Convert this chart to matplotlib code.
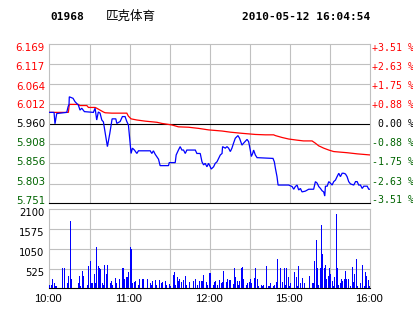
import matplotlib
matplotlib.use('Agg')
import matplotlib.pyplot as plt
import matplotlib.transforms as mtransforms

# ---------------- data ----------------
stock_code = "01968"
stock_name = "匹克体育"
timestamp = "2010-05-12 16:04:54"
prev_close = 5.960

price_ticks = [6.169, 6.117, 6.064, 6.012, 5.960, 5.908, 5.856, 5.803, 5.751]
pct_labels = ["+3.51 %", "+2.63 %", "+1.75 %", "+0.88 %", " 0.00 %",
              "-0.88 %", "-1.75 %", "-2.63 %", "-3.51 %"]
vol_ticks = [525, 1050, 1575, 2100]
time_pos = [0, 60, 120, 180, 240]
time_labels = ["10:00", "11:00", "12:00", "15:00", "16:00"]

price_min = [0, 3.4, 4.1, 5.4, 12.9, 13.9, 14.6, 14.8, 17.6, 19.1, 21.6, 22.8, 24.1, 26.1,
             32.8, 34.1, 35.3, 36.5, 37.8, 39.1, 40.3, 43.3, 45.1, 46.8, 49.6, 50.3, 52.8,
             54.5, 56.5, 57.8, 59.0, 61.0, 62.0, 63.5, 65.3, 66.5, 75.3, 76.5, 77.7, 79.0,
             81.5, 82.7, 89.0, 89.5, 94.0, 94.7, 96.4, 97.7, 99.0, 100.2, 101.5, 102.7,
             109.0, 110.2, 112.7, 114.0, 115.2, 116.4, 117.7, 118.9, 120.2, 120.9, 122.7,
             123.9, 125.2, 127.7, 129.0, 129.4, 131.4, 132.7, 133.9, 135.2, 136.4, 137.6,
             138.9, 140.9, 142.1, 143.9, 145.1, 147.7, 148.9, 150.1, 150.9, 151.9, 152.6,
             153.9, 155.2, 167.1, 168.1, 168.9, 170.1, 170.9, 178.8, 181.4, 182.6, 183.8,
             185.1, 186.3, 187.6, 188.8, 191.3, 193.8, 197.5, 198.8, 200.1, 201.3, 202.6,
             203.8, 205.0, 205.8, 206.3, 207.6, 208.8, 210.0, 211.3, 212.5, 213.8, 215.0,
             216.3, 217.5, 218.8, 220.0, 221.3, 222.5, 223.7, 225.0, 227.5, 228.8, 230.0,
             231.2, 232.5, 233.8, 235.0, 237.5, 238.7, 240.0]
price_val = [5.990, 5.990, 5.960, 5.987, 5.990, 6.005, 6.011, 6.031, 6.027, 6.018, 6.009,
             5.996, 6.001, 5.992, 5.990, 6.001, 5.970, 5.991, 5.988, 5.970, 5.965, 5.900,
             5.935, 5.973, 5.973, 5.961, 5.966, 5.979, 5.979, 5.966, 5.957, 5.882, 5.896,
             5.891, 5.882, 5.889, 5.889, 5.882, 5.889, 5.880, 5.867, 5.850, 5.850, 5.858,
             5.858, 5.878, 5.891, 5.900, 5.891, 5.891, 5.882, 5.891, 5.891, 5.882, 5.882,
             5.860, 5.852, 5.856, 5.847, 5.856, 5.847, 5.841, 5.847, 5.856, 5.860, 5.878,
             5.882, 5.900, 5.896, 5.900, 5.896, 5.887, 5.896, 5.909, 5.922, 5.929, 5.922,
             5.904, 5.909, 5.919, 5.913, 5.891, 5.874, 5.882, 5.891, 5.878, 5.871, 5.869,
             5.860, 5.843, 5.821, 5.799, 5.799, 5.795, 5.788, 5.795, 5.799, 5.786, 5.790,
             5.781, 5.783, 5.788, 5.788, 5.808, 5.804, 5.795, 5.790, 5.784, 5.781, 5.770,
             5.796, 5.796, 5.808, 5.804, 5.799, 5.808, 5.812, 5.821, 5.830, 5.821, 5.830,
             5.830, 5.828, 5.821, 5.808, 5.802, 5.799, 5.808, 5.808, 5.799, 5.799, 5.790,
             5.796, 5.796, 5.788, 5.788]

avg_min = [0, 14.1, 14.8, 21.6, 22.8, 27.9, 29.1, 34.1, 35.3, 37.8, 40.3, 41.6, 46.6, 57.8,
           59.0, 61.0, 65.3, 71.5, 80.3, 84.0, 91.5, 96.4, 103.9, 111.4, 118.9, 129.0,
           135.2, 143.9, 153.9, 161.4, 167.6, 168.9, 173.9, 178.8, 185.1, 189.9, 196.3,
           198.8, 201.3, 202.6, 205.0, 208.8, 212.5, 222.5, 230.0, 240.0]
avg_val = [5.990, 5.990, 6.011, 6.011, 6.008, 6.008, 6.003, 6.003, 6.001, 5.996, 5.991,
           5.989, 5.988, 5.988, 5.980, 5.973, 5.970, 5.967, 5.964, 5.961, 5.957, 5.952,
           5.951, 5.948, 5.944, 5.941, 5.938, 5.935, 5.932, 5.931, 5.931, 5.929, 5.924,
           5.920, 5.917, 5.915, 5.915, 5.909, 5.902, 5.900, 5.896, 5.891, 5.887, 5.884,
           5.881, 5.878]

vol_min = [0, 1, 2, 3, 4, 5, 9, 11, 13, 14,
           15, 16, 21, 22, 23, 24, 25, 28, 29, 30,
           31, 32, 33, 34, 35, 36, 37, 38, 39, 40,
           41, 42, 43, 45, 46, 47, 49, 50, 52, 54,
           55, 56, 57, 58, 59, 60, 61, 62, 63, 64,
           66, 67, 69, 70, 73, 75, 76, 77, 79, 80,
           82, 83, 84, 86, 87, 89, 90, 92, 93, 94,
           95, 96, 97, 98, 100, 101, 102, 104, 107, 109,
           110, 112, 113, 114, 115, 117, 118, 119, 120, 122,
           123, 124, 125, 127, 128, 129, 130, 132, 133, 134,
           135, 137, 138, 139, 140, 141, 142, 143, 144, 145,
           147, 148, 149, 150, 151, 153, 154, 155, 156, 158,
           159, 160, 162, 163, 164, 165, 167, 168, 169, 170,
           172, 174, 175, 176, 177, 178, 179, 180, 183, 184,
           185, 186, 187, 189, 190, 194, 196, 197, 198, 199,
           200, 201, 202, 203, 204, 205, 206, 207, 208, 209,
           210, 211, 212, 213, 214, 215, 216, 217, 218, 219,
           220, 221, 222, 223, 225, 226, 227, 228, 229, 230,
           232, 234, 235, 236, 237, 238, 239, 240]
vol_val = [90, 90, 250, 130, 60, 60, 530, 530, 130, 330,
           1790, 250, 130, 330, 60, 460, 330, 90, 590, 730,
           130, 130, 380, 130, 1100, 590, 530, 510, 130, 90,
           620, 380, 620, 130, 195, 90, 285, 130, 250, 530,
           530, 250, 310, 310, 425, 1100, 1050, 130, 160, 195,
           90, 250, 250, 250, 250, 130, 90, 195, 220, 90,
           220, 130, 160, 195, 90, 115, 60, 355, 425, 90,
           310, 195, 250, 180, 220, 330, 90, 180, 195, 250,
           90, 195, 195, 195, 355, 180, 90, 415, 415, 90,
           160, 195, 90, 220, 130, 160, 470, 160, 250, 220,
           220, 115, 550, 310, 195, 90, 195, 550, 570, 250,
           90, 130, 160, 250, 130, 285, 550, 250, 60, 90,
           60, 90, 590, 60, 60, 130, 60, 90, 160, 780,
           550, 160, 550, 90, 550, 310, 60, 130, 440, 310,
           60, 590, 130, 285, 130, 330, 130, 130, 730, 1285,
           550, 90, 550, 1680, 910, 550, 620, 250, 340, 550,
           380, 195, 70, 310, 1975, 550, 90, 130, 250, 195,
           250, 460, 250, 250, 60, 570, 160, 380, 780, 60,
           130, 620, 60, 425, 340, 220, 60, 340]

# ---------------- style ----------------
RED = '#ff0000'
GREEN = '#006400'
BLUE = '#0000ff'
GRID = '#c0c0c0'
W, H = 414, 314

fig = plt.figure(figsize=(W / 100, H / 100), dpi=100)
fig.patch.set_facecolor('white')


def px_axes(l, t, r, b):
    return fig.add_axes([l / W, 1 - b / H, (r - l) / W, (b - t) / H])


ax = px_axes(49.5, 44.3, 370.5, 203.3)
axv = px_axes(49.5, 209.3, 370.5, 288.3)

for a in (ax, axv):
    a.set_xlim(0, 240)
    a.set_xticks([])
    a.set_yticks([])
    for s in a.spines.values():
        s.set_color(GRID)
        s.set_linewidth(0.8)
    a.spines['bottom'].set_color('black')
    for x in range(30, 240, 30):
        a.axvline(x, color=GRID, lw=0.8, zorder=0)

ax.set_ylim(price_ticks[-1], price_ticks[0])
for lvl in price_ticks[1:-1]:
    c = 'black' if abs(lvl - prev_close) < 1e-6 else GRID
    ax.axhline(lvl, color=c, lw=0.8, zorder=1 if c == 'black' else 0)

axv.set_ylim(0, vol_ticks[-1])
for lvl in vol_ticks[:-1]:
    axv.axhline(lvl, color=GRID, lw=0.8, zorder=0)

# lines
ax.plot(avg_min, avg_val, color=RED, lw=0.9, zorder=3, solid_joinstyle='miter')
ax.plot(price_min, price_val, color=BLUE, lw=0.9, zorder=4, solid_joinstyle='miter')

# volume bars (1 px wide, crisp)
axv.vlines(vol_min, 0, vol_val, colors=BLUE, linewidth=0.5, zorder=3,
           antialiased=False, snap=True)

# price labels (left) and percentage labels (right)
ytr = ax.get_yaxis_transform()
left_tr = mtransforms.offset_copy(ytr, fig=fig, x=-4.5, y=-3.6, units='dots')
right_tr = mtransforms.offset_copy(ytr, fig=fig, x=1.5, y=-3.5, units='dots')
for lvl, lab in zip(price_ticks, pct_labels):
    if abs(lvl - prev_close) < 1e-6:
        col = 'black'
    elif lvl > prev_close:
        col = RED
    else:
        col = GREEN
    ypos = prev_close + (lvl - prev_close) * 0.958
    ax.text(0, ypos, f"{lvl:.3f}", transform=left_tr, ha='right', va='baseline',
            fontsize=7.4, color=col, family='DejaVu Sans')
    ax.text(1, ypos, lab, transform=right_tr, ha='left', va='baseline',
            fontsize=7.1, color=col, family='DejaVu Sans Mono')

vtr = mtransforms.offset_copy(axv.get_yaxis_transform(), fig=fig, x=-5, y=-7, units='dots')
for lvl in vol_ticks:
    axv.text(0, lvl, f"{lvl}", transform=vtr, ha='right', va='baseline',
             fontsize=7.2, color='black', family='DejaVu Sans')

ttr = mtransforms.offset_copy(axv.get_xaxis_transform(), fig=fig, x=-1.5, y=-14, units='dots')
for tp, tl in zip(time_pos, time_labels):
    axv.text(tp, 0, tl, transform=ttr, ha='center', va='baseline',
             fontsize=8, color='black', family='Liberation Sans')

# header
fig.text(50 / W, 1 - 19.5 / H, stock_code, ha='left', va='baseline', fontsize=8,
         fontweight='bold', family='DejaVu Sans Mono')
fig.text(106 / W, 1 - 20 / H, stock_name, ha='left', va='baseline', fontsize=9,
         family=['Noto Sans CJK SC', 'DejaVu Sans'])
fig.text(370 / W, 1 - 19.5 / H, timestamp, ha='right', va='baseline', fontsize=8,
         fontweight='bold', family='DejaVu Sans Mono')

fig.savefig('out.png', dpi=100, facecolor='white')
